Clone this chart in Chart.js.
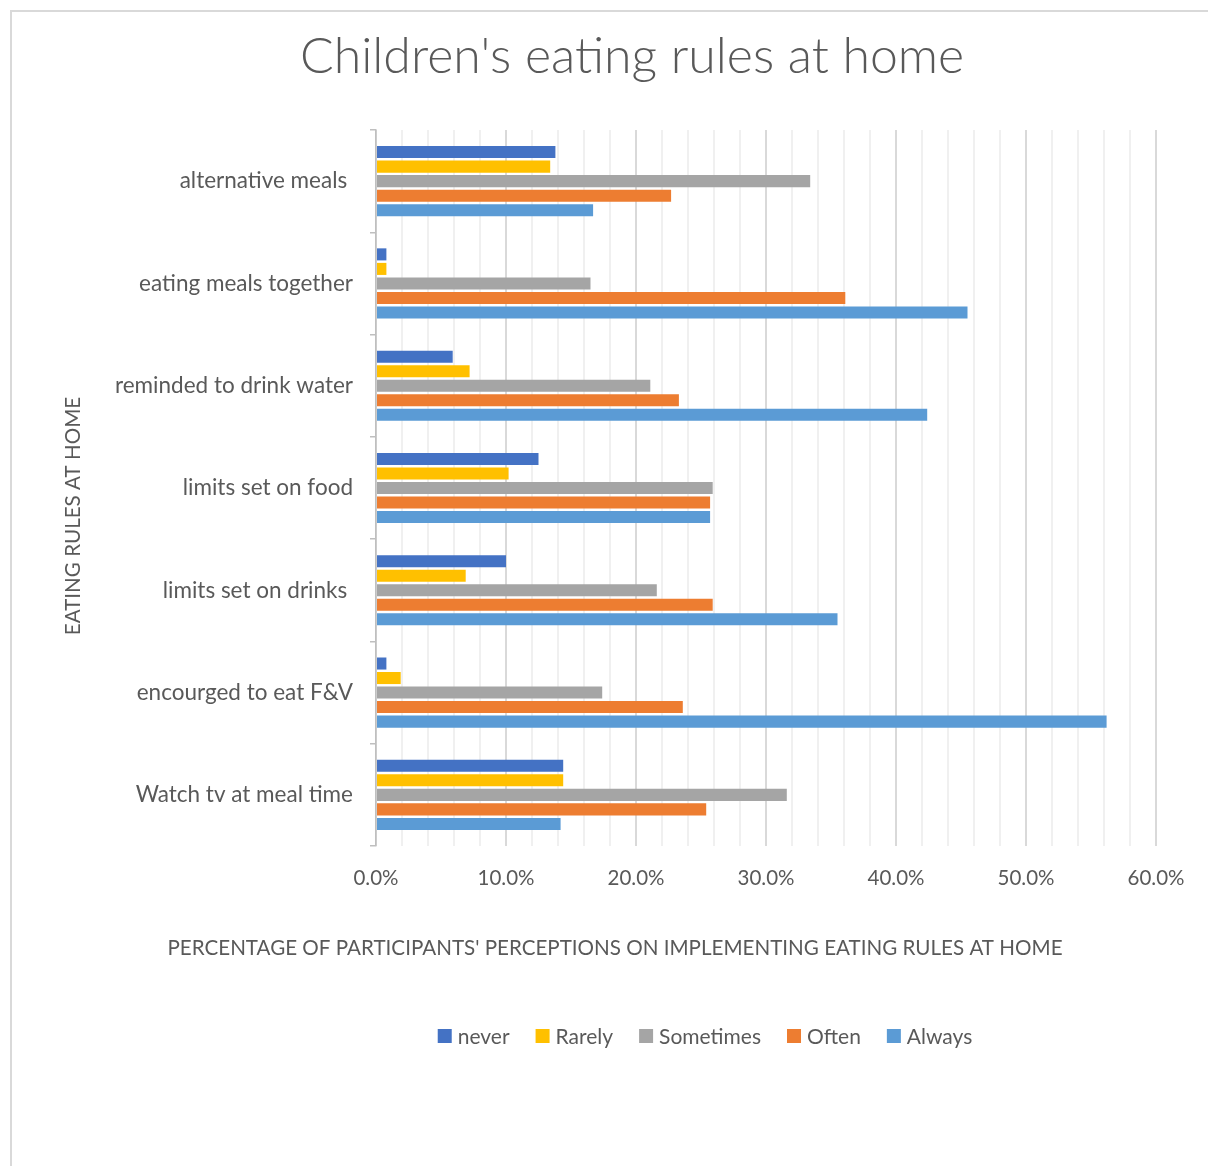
<!DOCTYPE html>
<html>
<head>
<meta charset="utf-8">
<title>Children's eating rules at home</title>
<script src="https://cdn.jsdelivr.net/npm/chart.js@4.4.1/dist/chart.umd.min.js"></script>
<style>
  html, body { margin: 0; padding: 0; background: #fff; }
  #wrap { width: 1208px; height: 1166px; position: relative; }
</style>
</head>
<body>
<div id="wrap"><canvas id="rulesChart"></canvas></div>
<script>
// Dados do gráfico
const categorias = ['alternative meals ', 'eating meals together', 'reminded to drink water',
  'limits set on food', 'limits set on drinks ', 'encourged to eat F&V', 'Watch tv at meal time'];
const never = [13.8, 0.8, 5.9, 12.5, 10.0, 0.8, 14.4];
const rarely = [13.4, 0.8, 7.2, 10.2, 6.9, 1.9, 14.4];
const sometimes = [33.4, 16.5, 21.1, 25.9, 21.6, 17.4, 31.6];
const often = [22.7, 36.1, 23.3, 25.7, 25.9, 23.6, 25.4];
const always = [16.7, 45.5, 42.4, 25.7, 35.5, 56.2, 14.2];
const ticksX = [0, 10, 20, 30, 40, 50, 60];

const corTexto = '#595959';
const fonte = 'Lato, "Open Sans", sans-serif';

// Título, eixos, legenda e moldura no estilo Excel
const decoracao = {
  id: 'decoracao',
  afterDraw(chart) {
    const ctx = chart.ctx;
    ctx.save();
    // moldura
    ctx.strokeStyle = '#d9d9d9';
    ctx.lineWidth = 2;
    ctx.beginPath();
    ctx.moveTo(11, 1166);
    ctx.lineTo(11, 11);
    ctx.lineTo(1208, 11);
    ctx.stroke();

    ctx.fillStyle = corTexto;
    ctx.textBaseline = 'middle';
    ctx.textAlign = 'center';
    // título
    ctx.font = '300 50px ' + fonte;
    ctx.fillText("Children's eating rules at home", 632, 57);
    // título do eixo x
    ctx.font = '20.6px ' + fonte;
    ctx.fillText("PERCENTAGE OF PARTICIPANTS' PERCEPTIONS ON IMPLEMENTING EATING RULES AT HOME", 615, 948);
    // título do eixo y
    ctx.save();
    ctx.translate(73, 516);
    ctx.rotate(-Math.PI / 2);
    ctx.fillText('EATING RULES AT HOME', 0, 0);
    ctx.restore();

    // legenda
    ctx.font = '21px ' + fonte;
    ctx.textAlign = 'left';
    const box = 14, gapTxt = 6, gapItem = 26;
    const itens = chart.data.datasets.map(d => ({ label: d.label, cor: d.backgroundColor, w: ctx.measureText(d.label).width }));
    const total = itens.reduce((s, it) => s + box + gapTxt + it.w, 0) + gapItem * (itens.length - 1);
    let x = 705 - total / 2;
    const y = 1036;
    itens.forEach(it => {
      ctx.fillStyle = it.cor;
      ctx.fillRect(x, y - box / 2, box, box);
      ctx.fillStyle = corTexto;
      ctx.fillText(it.label, x + box + gapTxt, y + 1);
      x += box + gapTxt + it.w + gapItem;
    });
    ctx.restore();
  }
};

new Chart(document.getElementById('rulesChart').getContext('2d'), {
  type: 'bar',
  data: {
    labels: categorias,
    datasets: [
      { label: 'never', data: never, backgroundColor: '#4472c4' },
      { label: 'Rarely', data: rarely, backgroundColor: '#ffc000' },
      { label: 'Sometimes', data: sometimes, backgroundColor: '#a5a5a5' },
      { label: 'Often', data: often, backgroundColor: '#ed7d31' },
      { label: 'Always', data: always, backgroundColor: '#5b9bd5' }
    ]
  },
  options: {
    indexAxis: 'y',
    responsive: true,
    maintainAspectRatio: false,
    animation: false,
    categoryPercentage: 0.71,
    barPercentage: 0.83,
    layout: { padding: { left: 0, top: 130, right: 52, bottom: 260 } },
    plugins: {
      legend: { display: false },
      title: { display: false },
      tooltip: { enabled: false }
    },
    scales: {
      x: {
        min: ticksX[0],
        max: ticksX[ticksX.length - 1],
        ticks: {
          stepSize: 2,
          autoSkip: false,
          maxRotation: 0,
          padding: 20,
          color: corTexto,
          font: { family: fonte, size: 20.5 },
          callback: v => (Math.round(v) % 10 === 0 ? Math.round(v).toFixed(1) + '%' : '')
        },
        grid: {
          drawTicks: false,
          color: c => (Math.round(c.tick.value) % 10 === 0 ? '#d9d9d9' : '#f0f0f0'),
          lineWidth: 2
        },
        border: { display: false },
        afterFit: s => { s.height = 60; }
      },
      y: {
        ticks: {
          padding: 17,
          color: corTexto,
          font: { family: fonte, size: 22.5 }
        },
        grid: {
          drawOnChartArea: false,
          drawTicks: true,
          tickLength: 6,
          color: '#bfbfbf',
          lineWidth: 1.5
        },
        border: { color: '#bfbfbf', width: 1.5 },
        afterFit: s => { s.width = 376; }
      }
    }
  },
  plugins: [decoracao]
});
</script>
</body>
</html>
